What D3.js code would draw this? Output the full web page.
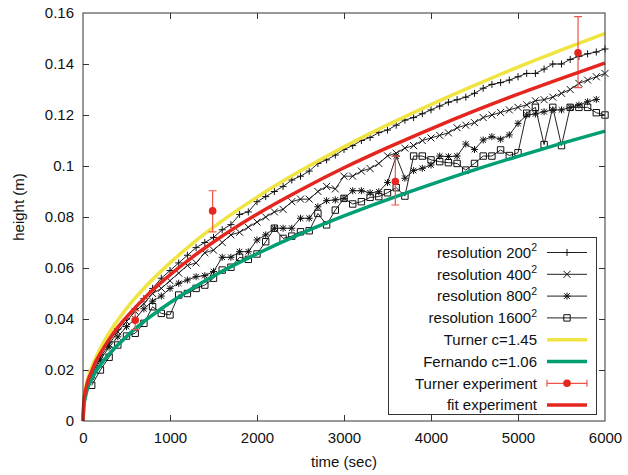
<!DOCTYPE html>
<html><head><meta charset="utf-8">
<script src="https://cdn.jsdelivr.net/npm/d3@7"></script>
<style>
html,body{margin:0;padding:0;background:#fff;}
svg{display:block;font-family:"Liberation Sans",Arial,Helvetica,sans-serif;}
</style></head>
<body><svg id="c" width="628" height="475"></svg>
<script>
// ---- data ----
const simTime = [100,200,300,400,500,600,700,800,900,1000,1100,1200,1300,1400,1500,1600,1700,1800,1900,2000,
 2100,2200,2300,2400,2500,2600,2700,2800,2900,3000,3100,3200,3300,3400,3500,3600,3700,3800,3900,4000,
 4100,4200,4300,4400,4500,4600,4700,4800,4900,5000,5100,5200,5300,5400,5500,5600,5700,5800,5900,6000];
const res200 = [0.019,0.026,0.031,0.036,0.040,0.044,0.048,0.052,0.056,0.059,
 0.062,0.065,0.068,0.070,0.072,0.075,0.077,0.081,0.082,0.086,
 0.088,0.090,0.092,0.0945,0.096,0.098,0.101,0.1024,0.1043,0.1065,
 0.108,0.110,0.1112,0.1131,0.1141,0.116,0.118,0.119,0.1205,0.122,
 0.1235,0.125,0.126,0.127,0.1285,0.1305,0.132,0.1327,0.1337,0.135,
 0.1363,0.1363,0.138,0.140,0.140,0.1418,0.143,0.144,0.1447,0.1459];
const res400 = [0.018,0.025,0.030,0.035,0.039,0.043,0.046,0.050,0.052,0.055,
 0.058,0.061,0.062,0.066,0.067,0.070,0.073,0.074,0.076,0.078,
 0.080,0.082,0.083,0.086,0.087,0.087,0.090,0.092,0.091,0.096,
 0.096,0.098,0.099,0.101,0.104,0.105,0.107,0.108,0.110,0.111,
 0.112,0.113,0.115,0.116,0.117,0.119,0.120,0.121,0.122,0.123,
 0.124,0.1256,0.126,0.127,0.1285,0.130,0.1324,0.1337,0.135,0.1363];
const res800 = [0.017,0.024,0.029,0.033,0.037,0.040,0.044,0.047,0.049,0.052,
 0.054,0.0553,0.0566,0.057,0.0586,0.0642,0.0642,0.0664,0.0664,0.071,
 0.073,0.0756,0.0756,0.0756,0.0795,0.0795,0.084,0.0864,0.0867,0.0873,
 0.0903,0.0903,0.0895,0.0899,0.0935,0.1039,0.0952,0.0982,0.0991,0.1004,
 0.1039,0.1037,0.1039,0.1086,0.1065,0.1102,0.1115,0.1105,0.1122,0.1167,
 0.120,0.1204,0.1213,0.122,0.122,0.123,0.1239,0.1252,0.1261];
const res1600 = [0.014,0.020,0.025,0.0298,0.0333,0.0344,0.0383,0.0448,0.0422,0.0416,
 0.0494,0.050,0.052,0.0533,0.056,0.0592,0.0603,0.0642,0.0634,0.0655,
 0.0703,0.0756,0.0716,0.0725,0.0742,0.0746,0.0814,0.0769,0.0827,0.0873,
 0.0851,0.086,0.0877,0.088,0.0895,0.0915,0.0882,0.1039,0.1039,0.1024,
 0.1017,0.1013,0.101,0.0984,0.101,0.1039,0.1039,0.1063,0.1041,0.1052,
 0.1207,0.123,0.1084,0.123,0.108,0.123,0.123,0.123,0.1209,0.120];

const curveTime = [0,10,25,50,100,150,200,300,400,500,750,1000,1250,1500,2000,2500,3000,3500,4000,4500,5000,5500,6000];
const turnerC145 = [0,0.008,0.012,0.016,0.021,0.025,0.0285,0.0345,0.0395,0.0441,0.0538,0.0620,0.0694,0.0760,0.0878,0.0981,0.1075,0.1161,0.1241,0.1316,0.1388,0.1455,0.1520];
const fernandoC106 = [0,0.006,0.009,0.0125,0.0165,0.0195,0.022,0.0262,0.0298,0.0331,0.0403,0.0464,0.0519,0.0569,0.0656,0.0734,0.0804,0.0868,0.0928,0.0985,0.1038,0.1089,0.1137];
const fitExperiment = [0,0.0075,0.011,0.015,0.0195,0.0235,0.0265,0.032,0.0367,0.0407,0.0497,0.0573,0.0641,0.0702,0.0811,0.0906,0.0993,0.1072,0.1146,0.1216,0.1282,0.1344,0.1404];

const expTime = [600,1490,3590,5690];
const expHeight = [0.0395,0.0824,0.0939,0.1444];
const expLow = [0.0358,0.0742,0.0847,0.1307];
const expHigh = [0.0433,0.0903,0.1039,0.1586];

const xTicks = [0,1000,2000,3000,4000,5000,6000];
const yTicks = [0,0.02,0.04,0.06,0.08,0.1,0.12,0.14,0.16];
const yTickLabels = ["0","0.02","0.04","0.06","0.08","0.1","0.12","0.14","0.16"];
const legendLabels = [["resolution 200","2"],["resolution 400","2"],["resolution 800","2"],["resolution 1600","2"],
 ["Turner c=1.45",""],["Fernando c=1.06",""],["Turner experiment",""],["fit experiment",""]];

// ---- chart ----
const svg = d3.select("#c");
const L=83, R=605, T=13, B=421;
const x = d3.scaleLinear().domain([0,6000]).range([L,R]);
const y = d3.scaleLinear().domain([0,0.16]).range([B,T]);
const FS = 15;
const frameCol = "#333";
const yellow="#f0e442", green="#009e73", red="#e5261f", errCol="#ee5548";

// axes
const gB = svg.append("g").attr("transform",`translate(0,${B})`)
 .call(d3.axisBottom(x).tickValues(xTicks).tickSize(-6).tickPadding(11).tickFormat(d3.format("d")));
const gT = svg.append("g").attr("transform",`translate(0,${T})`)
 .call(d3.axisTop(x).tickValues(xTicks.slice(1,-1)).tickSize(-6).tickFormat(""));
const gL = svg.append("g").attr("transform",`translate(${L},0)`)
 .call(d3.axisLeft(y).tickValues(yTicks).tickSize(-6).tickPadding(9).tickFormat((d,i)=>yTickLabels[i]));
const gR = svg.append("g").attr("transform",`translate(${R},0)`)
 .call(d3.axisRight(y).tickValues(yTicks.slice(1,-1)).tickSize(-6).tickFormat(""));
[gB,gT,gL,gR].forEach(g=>{
  g.select(".domain").remove();
  g.selectAll(".tick line").attr("stroke",frameCol);
  g.selectAll("text").attr("font-size",FS).attr("font-family","Liberation Sans, Arial, sans-serif").attr("fill","#111");
});
gB.selectAll(".tick").filter(d=>d===0||d===6000).select("line").remove();
gL.selectAll(".tick").filter(d=>d===0||d===0.16).select("line").remove();

// axis titles
svg.append("text").attr("x",(L+R)/2).attr("y",467).attr("text-anchor","middle")
 .attr("font-size",FS).attr("fill","#111").text("time (sec)");
svg.append("text").attr("transform","translate(24,207) rotate(-90)").attr("text-anchor","middle")
 .attr("font-size",FS).attr("fill","#111").text("height (m)");

const plot = svg.append("g");
const line = d3.line().x(d=>x(d[0])).y(d=>y(d[1]));

function marker(type, cx, cy){
  const s=3.5;
  if(type==="plus") return `M${cx-s},${cy}H${cx+s}M${cx},${cy-s}V${cy+s}`;
  if(type==="cross") return `M${cx-s},${cy-s}L${cx+s},${cy+s}M${cx-s},${cy+s}L${cx+s},${cy-s}`;
  if(type==="star") return `M${cx-s},${cy}H${cx+s}M${cx},${cy-s}V${cy+s}M${cx-s*0.8},${cy-s*0.8}L${cx+s*0.8},${cy+s*0.8}M${cx-s*0.8},${cy+s*0.8}L${cx+s*0.8},${cy-s*0.8}`;
  const q=3.2;
  return `M${cx-q},${cy-q}H${cx+q}V${cy+q}H${cx-q}Z`;
}

const series = [[res200,"plus"],[res400,"cross"],[res800,"star"],[res1600,"square"]];
series.forEach(([vals,type])=>{
  const pts = vals.map((v,i)=>[simTime[i],v]);
  plot.append("path").attr("d",line(pts)).attr("fill","none").attr("stroke","#222").attr("stroke-width",1);
  plot.append("path").attr("d",pts.map(p=>marker(type,x(p[0]),y(p[1]))).join(""))
   .attr("fill","none").attr("stroke","#111").attr("stroke-width",1);
});

const smooth = d3.line().x(d=>x(d[0])).y(d=>y(d[1])).curve(d3.curveMonotoneX);
plot.append("path").attr("d",smooth(curveTime.map((t,i)=>[t,turnerC145[i]])))
 .attr("fill","none").attr("stroke",yellow).attr("stroke-width",3.5);
plot.append("path").attr("d",smooth(curveTime.map((t,i)=>[t,fernandoC106[i]])))
 .attr("fill","none").attr("stroke",green).attr("stroke-width",3.5);

// experiment with error bars
expTime.forEach((t,i)=>{
  const cx=x(t);
  plot.append("path").attr("d",`M${cx},${y(expLow[i])}V${y(expHigh[i])}M${cx-4},${y(expLow[i])}H${cx+4}M${cx-4},${y(expHigh[i])}H${cx+4}`)
   .attr("stroke",errCol).attr("stroke-width",1.2).attr("fill","none");
  plot.append("circle").attr("cx",cx).attr("cy",y(expHeight[i])).attr("r",3.8).attr("fill",red);
});

plot.append("path").attr("d",smooth(curveTime.map((t,i)=>[t,fitExperiment[i]])))
 .attr("fill","none").attr("stroke",red).attr("stroke-width",3.5);

// frame
svg.append("rect").attr("x",L).attr("y",T).attr("width",R-L).attr("height",B-T)
 .attr("fill","none").attr("stroke",frameCol).attr("stroke-width",1);

// legend
const lg = svg.append("g");
lg.append("rect").attr("x",388.5).attr("y",237.5).attr("width",208).attr("height",177)
 .attr("fill","#fff").attr("stroke",frameCol).attr("stroke-width",1);
const rowY = i => 252.5 + i*21.8;
const sx0=547, sx1=587, sxm=567;
legendLabels.forEach((lab,i)=>{
  const yy=rowY(i);
  const t = lg.append("text").attr("x",537).attr("y",yy+5.3).attr("text-anchor","end")
    .attr("font-size",FS).attr("fill","#111");
  t.append("tspan").text(lab[0]);
  if(lab[1]) t.append("tspan").attr("font-size",10.5).attr("dy",-6.5).text(lab[1]);
  if(i<4){
    lg.append("path").attr("d",`M${sx0},${yy}H${sx1}`).attr("stroke","#222").attr("stroke-width",1);
    lg.append("path").attr("d",marker(series[i][1],sxm,yy)).attr("stroke","#111").attr("fill","none");
  } else if(i===4||i===5||i===7){
    lg.append("path").attr("d",`M${sx0},${yy}H${sx1}`).attr("stroke",[yellow,green,null,red][i-4]).attr("stroke-width",3.5);
  } else {
    lg.append("path").attr("d",`M${sx0},${yy}H${sx1}M${sx0},${yy-3.5}V${yy+3.5}M${sx1},${yy-3.5}V${yy+3.5}`)
      .attr("stroke",errCol).attr("stroke-width",1.2).attr("fill","none");
    lg.append("circle").attr("cx",sxm).attr("cy",yy).attr("r",3.8).attr("fill",red);
  }
});
</script></body></html>
